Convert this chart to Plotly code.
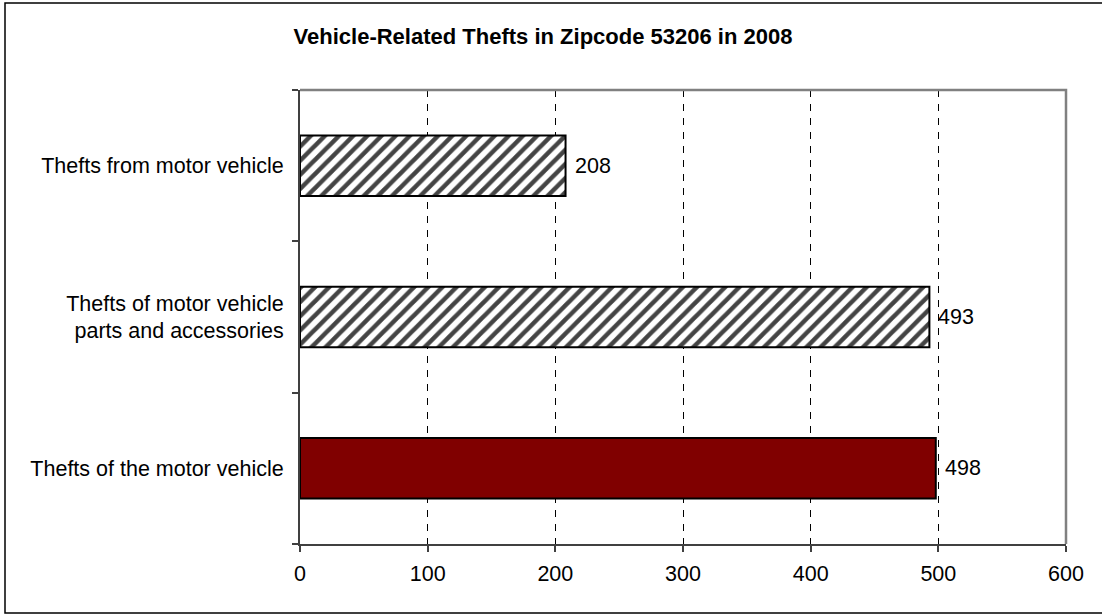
import plotly.graph_objects as go

categories = ["Thefts of the motor vehicle",
              "Thefts of motor vehicle<br>parts and accessories",
              "Thefts from motor vehicle"]
values = [498, 493, 208]
bar_colors = ["#800000", "white", "white"]
bar_patterns = ["", "/", "/"]
x_ticks = [0, 100, 200, 300, 400, 500, 600]
title_text = "<b>Vehicle-Related Thefts in Zipcode 53206 in 2008</b>"

FONT = "Liberation Sans, Arial, sans-serif"

W, H = 1102, 615
L, R, T, B = 300, 1066, 90, 544

fig = go.Figure()
fig.add_trace(go.Bar(
    y=categories, x=values, orientation="h",
    marker=dict(color=bar_colors,
                line=dict(color="black", width=2),
                pattern=dict(shape=bar_patterns, fillmode="overlay",
                             fgcolor="black", fgopacity=1, size=10, solidity=0.45)),
    showlegend=False, hoverinfo="x+y",
))

annotations = [
    dict(x=v, y=c, xref="x", yref="y", text=str(v), showarrow=False,
         xanchor="left", yanchor="middle", xshift=7,
         font=dict(family=FONT, size=21.5, color="black"))
    for v, c in zip(values, categories)
]

pw, ph = R - L, B - T
def px2paper_x(px): return (px - L) / pw
def px2paper_y(py): return (B - py) / ph

shapes = [
    dict(type="path", xref="paper", yref="paper",
         path="M 0,1 L 1,1 L 1,0", line=dict(color="#808080", width=2.5), layer="above"),
    dict(type="rect", xref="paper", yref="paper",
         x0=px2paper_x(5), x1=px2paper_x(1106), y0=px2paper_y(613), y1=px2paper_y(3),
         line=dict(color="black", width=1.5), fillcolor="rgba(0,0,0,0)", layer="above"),
]

fig.update_layout(
    width=W, height=H,
    margin=dict(l=L, r=W - R, t=T, b=H - B, pad=0),
    paper_bgcolor="white", plot_bgcolor="white",
    font=dict(family=FONT, size=21.5, color="black"),
    title=dict(text=title_text, x=543 / W, xanchor="center", xref="container",
               y=1 - 36 / H, yanchor="middle", yref="container",
               font=dict(family=FONT, size=22, color="black")),
    bargap=0.6,
    shapes=shapes,
    annotations=annotations,
    xaxis=dict(range=[0, 600], tickvals=x_ticks, ticktext=[str(t) for t in x_ticks],
               showgrid=True, gridcolor="black", gridwidth=1, griddash="7px,7px",
               zeroline=False, showline=True, linecolor="#404040", linewidth=2,
               ticks="outside", ticklen=6, tickcolor="#404040", tickwidth=1.5,
               ticklabelstandoff=3,
               tickfont=dict(family=FONT, size=21.5, color="black"), fixedrange=True),
    yaxis=dict(categoryorder="array", categoryarray=categories,
               showline=True, linecolor="#404040", linewidth=2,
               ticks="outside", ticklen=6, tickcolor="#404040", tickwidth=1.5,
               tickson="boundaries", showgrid=False, ticklabelstandoff=10,
               tickfont=dict(family=FONT, size=21.5, color="black"), fixedrange=True),
)

fig.write_html("out.html", config={"displayModeBar": False},
               post_script="document.body.style.margin='0';")
